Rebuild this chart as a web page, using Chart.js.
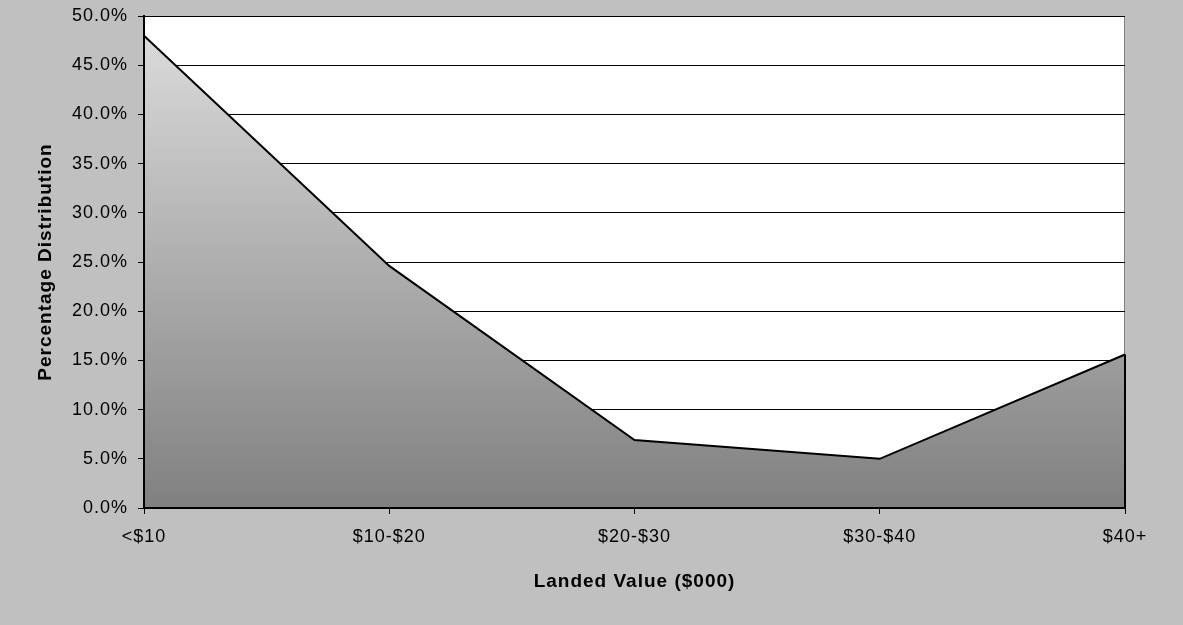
<!DOCTYPE html>
<html>
<head>
<meta charset="utf-8">
<script src="https://cdn.jsdelivr.net/npm/chart.js@4.4.0/dist/chart.umd.min.js"></script>
<style>
  body { margin: 0; background: #c0c0c0; }
  canvas { display: block; }
</style>
</head>
<body>
<canvas id="myChart-landed" width="1183" height="625"></canvas>
<script>
// values (percent)
const categories = ["<$10", "$10-$20", "$20-$30", "$30-$40", "$40+"];
const shares = [48.0, 24.6, 6.9, 5.0, 15.6];
const yMin = 0;
const yMax = 50;
const yStep = 5;

const plotBox = { left: 144, top: 16, right: 1125, bottom: 508 };

// grey page, white plot area, slightly spaced text like the excel render
const excelLook = {
    id: "excelLook",
    beforeDraw(chart) {
        const { ctx, chartArea: a } = chart;
        ctx.letterSpacing = "1px";
        ctx.save();
        ctx.fillStyle = "#c0c0c0";
        ctx.fillRect(0, 0, chart.width, chart.height);
        ctx.fillStyle = "#ffffff";
        ctx.fillRect(a.left, a.top, a.right - a.left, a.bottom - a.top);
        ctx.strokeStyle = "#808080";
        ctx.lineWidth = 1;
        ctx.strokeRect(a.left + 0.5, a.top + 0.5, a.right - a.left - 1, a.bottom - a.top);
        ctx.restore();
    },
    afterDatasetsDraw(chart) {
        const { ctx, chartArea: a } = chart;
        const pts = chart.getDatasetMeta(0).data;
        const last = pts[pts.length - 1];
        ctx.save();
        ctx.strokeStyle = "#000";
        ctx.lineWidth = 2;
        // right edge of the area outline
        ctx.beginPath();
        ctx.moveTo(last.x, last.y);
        ctx.lineTo(last.x, a.bottom);
        ctx.stroke();
        // axis lines on top of the fill
        ctx.beginPath();
        ctx.moveTo(a.left, a.top);
        ctx.lineTo(a.left, a.bottom);
        ctx.lineTo(a.right, a.bottom);
        ctx.stroke();
        ctx.restore();
    }
};

const areaFill = (context) => {
    const { chart } = context;
    const { chartArea, scales } = chart;
    if (!chartArea) return "#aaaaaa";
    const top = scales.y.getPixelForValue(Math.max(...shares));
    const g = chart.ctx.createLinearGradient(0, top, 0, chartArea.bottom);
    g.addColorStop(0, "#dadada");
    g.addColorStop(0.5, "#adadad");
    g.addColorStop(1, "#808080");
    return g;
};

const tickFont = { family: "'Liberation Sans', Arial, sans-serif", size: 18 };
const titleFont = { family: "'Liberation Sans', Arial, sans-serif", size: 19, weight: "bold", lineHeight: 1.2 };

new Chart(document.getElementById("myChart-landed"), {
    type: "line",
    data: {
        labels: categories,
        datasets: [{
            data: shares,
            borderColor: "#000",
            borderWidth: 2,
            backgroundColor: areaFill,
            fill: "origin",
            pointRadius: 0,
            tension: 0
        }]
    },
    options: {
        responsive: false,
        animation: false,
        devicePixelRatio: 1,
        layout: { padding: { left: 0, top: plotBox.top, right: 1183 - plotBox.right, bottom: 0 } },
        plugins: {
            legend: { display: false },
            tooltip: { enabled: false }
        },
        scales: {
            x: {
                offset: false,
                grid: { display: true, drawOnChartArea: false, color: "#000", tickLength: 6 },
                border: { display: true, color: "#000", width: 2 },
                ticks: { color: "#000", padding: 12, maxRotation: 0, font: tickFont },
                title: {
                    display: true,
                    text: "Landed Value ($000)",
                    color: "#000",
                    padding: { top: 0, bottom: 32 },
                    font: titleFont
                },
                afterFit(scale) {
                    scale.height = 625 - plotBox.bottom;
                    scale.paddingLeft = 0;
                    scale.paddingRight = 0;
                }
            },
            y: {
                min: yMin,
                max: yMax,
                grid: { color: "#000", lineWidth: 1, tickLength: 6 },
                border: { display: true, color: "#000", width: 2 },
                ticks: {
                    stepSize: yStep,
                    color: "#000",
                    padding: 10,
                    font: tickFont,
                    callback: (v) => v.toFixed(1) + "%"
                },
                title: {
                    display: true,
                    text: "Percentage Distribution",
                    color: "#000",
                    padding: { top: 34, bottom: 0 },
                    font: titleFont
                },
                afterFit(scale) {
                    scale.width = plotBox.left;
                    scale.paddingTop = 0;
                    scale.paddingBottom = 0;
                }
            }
        }
    },
    plugins: [excelLook]
});
</script>
</body>
</html>
